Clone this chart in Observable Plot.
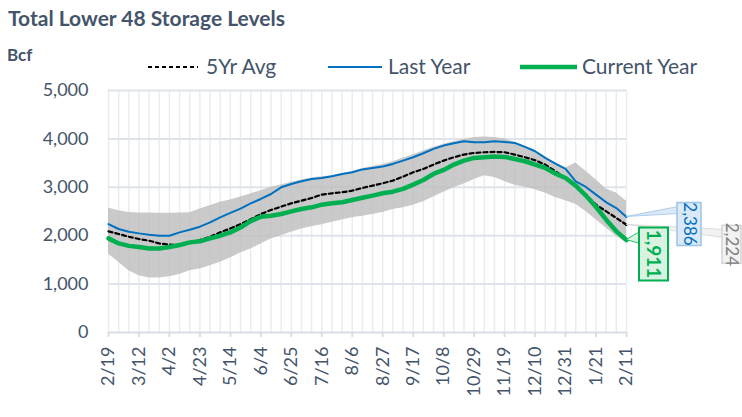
<!DOCTYPE html>
<html>
<head>
<meta charset="utf-8">
<script src="https://cdn.jsdelivr.net/npm/d3@7"></script>
<script src="https://cdn.jsdelivr.net/npm/@observablehq/plot@0.6"></script>
<style>
  html, body { margin: 0; padding: 0; background: #fff; }
  #wrap { position: relative; width: 742px; height: 417px; overflow: hidden; font-family: Lato, "Open Sans", sans-serif; color: #44546A; }
  #wrap > svg { position: absolute; left: 0; top: 0; }
  .abs { position: absolute; white-space: nowrap; line-height: 1; }
  #title { left: 8px; top: 7px; font-size: 21px; font-weight: bold; }
  #unit { left: 7px; top: 46px; font-size: 17px; font-weight: bold; }
</style>
</head>
<body>
<div id="wrap">
  <div id="title" class="abs">Total Lower 48 Storage Levels</div>
  <div id="unit" class="abs">Bcf</div>
</div>
<script>
// ---- data (Bcf), weekly from 2/19 to 2/11 ----
const startDate = "2021-02-19";
const tickLabels = ["2/19","3/12","4/2","4/23","5/14","6/4","6/25","7/16","8/6","8/27","9/17","10/8","10/29","11/19","12/10","12/31","1/21","2/11"];
const avg5 = [2090,2034,1979,1931,1897,1840,1815,1810,1841,1910,1979,2069,2150,2240,2340,2448,2531,2600,2669,2724,2779,2848,2876,2897,2931,2986,3034,3083,3138,3221,3310,3379,3469,3552,3621,3676,3710,3724,3730,3724,3676,3621,3559,3469,3331,3193,3034,2848,2641,2503,2366,2224];
const lastYear = [2241,2138,2083,2048,2021,2000,2000,2069,2124,2186,2276,2380,2470,2560,2669,2759,2862,3000,3069,3124,3172,3193,3228,3276,3310,3370,3400,3428,3483,3552,3621,3703,3793,3862,3910,3952,3931,3931,3952,3938,3917,3834,3745,3607,3490,3379,3120,3007,2848,2690,2572,2386];
const currentYear = [1945,1841,1790,1765,1735,1735,1765,1807,1862,1883,1945,2000,2069,2170,2300,2393,2414,2448,2503,2552,2586,2641,2669,2690,2738,2785,2828,2876,2910,2966,3055,3152,3276,3359,3469,3552,3607,3621,3635,3628,3586,3538,3469,3400,3283,3193,3034,2828,2593,2331,2090,1911];
const rangeMax = [2570,2517,2480,2470,2470,2465,2465,2470,2475,2550,2620,2690,2740,2800,2862,2930,3000,3050,3103,3150,3193,3220,3241,3280,3320,3390,3430,3470,3530,3600,3670,3750,3830,3890,3940,3990,4030,4040,4030,4000,3930,3850,3760,3620,3500,3400,3503,3331,3158,2966,2883,2710];
const rangeMin = [1620,1450,1276,1172,1124,1124,1150,1200,1276,1310,1380,1450,1540,1640,1724,1828,1931,2000,2069,2138,2186,2228,2276,2324,2370,2400,2440,2480,2540,2580,2630,2700,2800,2900,2990,3070,3160,3240,3200,3120,3040,3000,2950,2880,2790,2720,2650,2500,2330,2160,1990,1850];
const seriesNames = ["5Yr Avg","Last Year","Current Year"];
const seriesColors = ["#000000","#0070C0","#00B050"];

// ---- build table ----
const start = new Date(startDate + "T00:00:00Z");
const dates = avg5.map((_, i) => d3.utcDay.offset(start, 7 * i));
const rows = dates.map((d, i) => ({date: d, avg: avg5[i], last: lastYear[i], cur: currentYear[i], lo: rangeMin[i], hi: rangeMax[i]}));
const tickDates = tickLabels.map((_, k) => dates[k * 3]);
const tickMap = new Map(tickDates.map((d, k) => [+d, tickLabels[k]]));
const lastDate = dates[dates.length - 1];

const plot = Plot.plot({
  width: 742,
  height: 417,
  marginTop: 90,
  marginBottom: 85,
  marginLeft: 108,
  marginRight: 116,
  style: {fontFamily: "Lato, 'Open Sans', sans-serif", color: "#44546A", background: "transparent", overflow: "visible"},
  x: {type: "utc", domain: [dates[0], lastDate]},
  y: {domain: [0, 5000]},
  marks: [
    Plot.ruleX(dates, {stroke: "#e9ecf1", strokeWidth: 1.5}),
    Plot.ruleY([1000, 2000, 3000, 4000, 5000], {stroke: "#dfe3ea", strokeWidth: 2}),
    Plot.areaY(rows, {x: "date", y1: "lo", y2: "hi", fill: "#bdbdbd", fillOpacity: 0.8}),
    Plot.ruleY([0], {stroke: "#d9dde5", strokeWidth: 2}),
    Plot.axisY({ticks: [0, 1000, 2000, 3000, 4000, 5000], tickFormat: d3.format(","), tickSize: 0, tickPadding: 20, fontSize: 18, fill: "#44546A"}),
    Plot.axisX({ticks: tickDates, tickFormat: d => tickMap.get(+d), tickRotate: -90, tickSize: 5, tickPadding: 9, stroke: "#d9dde5", strokeWidth: 2, fontSize: 18, fill: "#44546A"}),
    Plot.lineY(rows, {x: "date", y: "avg", stroke: seriesColors[0], strokeWidth: 2.2, strokeDasharray: "4,3"}),
    Plot.lineY(rows, {x: "date", y: "last", stroke: seriesColors[1], strokeWidth: 2}),
    Plot.lineY(rows, {x: "date", y: "cur", stroke: seriesColors[2], strokeWidth: 4.5})
  ]
});

const wrap = document.getElementById("wrap");
wrap.insertBefore(plot, wrap.firstChild);

// ---- callouts anchored on last points via the plot's scales ----
const sx = plot.scale("x"), sy = plot.scale("y");
const svg = d3.select(plot);
const callouts = [
  {v: avg5[avg5.length - 1], fill: "#f2f2f2", stroke: "#d4d4d4", text: "#7f7f7f", box: [96, 1, 19, 38], tip: [4, 12], size: 17, sw: 1.5, weight: "normal"},
  {v: lastYear[lastYear.length - 1], fill: "#dbe9f7", stroke: "#9dc3e6", text: "#0070C0", box: [51, -14, 24, 43], tip: [4, 11], size: 17, sw: 1.5, weight: "normal"},
  {v: currentYear[currentYear.length - 1], fill: "#d9f2e2", stroke: "#00B050", text: "#00B050", box: [13, -12, 29, 53], tip: [4, 16], size: 19, sw: 2, weight: "bold"}
];
const px = sx.apply(lastDate);
for (const c of callouts) {
  const py = sy.apply(c.v);
  const [bx, by, bw, bh] = c.box;
  const g = svg.append("g");
  g.append("polygon")
    .attr("points", `${px},${py} ${px + bx + 1},${py + by + c.tip[0]} ${px + bx + 1},${py + by + c.tip[1]}`)
    .attr("fill", c.fill).attr("stroke", c.stroke).attr("stroke-width", 1).attr("stroke-opacity", 0.8);
  g.append("rect")
    .attr("x", px + bx).attr("y", py + by).attr("width", bw).attr("height", bh)
    .attr("fill", c.fill).attr("stroke", c.stroke).attr("stroke-width", c.sw);
  g.append("text")
    .attr("transform", `translate(${px + bx + bw / 2 + 1},${py + by + bh / 2}) rotate(90)`)
    .attr("text-anchor", "middle").attr("dominant-baseline", "central")
    .attr("font-size", c.size).attr("font-weight", c.weight).attr("fill", c.text)
    .text(d3.format(",")(c.v));
}

// ---- legend ----
const legendItems = [
  {name: seriesNames[0], color: seriesColors[0], dash: "4,3", w: 2, x1: 148, x2: 198, tx: 206},
  {name: seriesNames[1], color: seriesColors[1], dash: null, w: 2, x1: 328, x2: 382, tx: 388},
  {name: seriesNames[2], color: seriesColors[2], dash: null, w: 4.5, x1: 520, x2: 577, tx: 582}
];
const leg = svg.append("g").attr("text-anchor", "start");
for (const it of legendItems) {
  leg.append("line").attr("x1", it.x1).attr("x2", it.x2).attr("y1", 67).attr("y2", 67)
    .attr("stroke", it.color).attr("stroke-width", it.w).attr("stroke-dasharray", it.dash);
  leg.append("text").attr("x", it.tx).attr("y", 74).attr("text-anchor", "start").attr("font-size", 21).attr("fill", "#44546A").text(it.name);
}
</script>
</body>
</html>
